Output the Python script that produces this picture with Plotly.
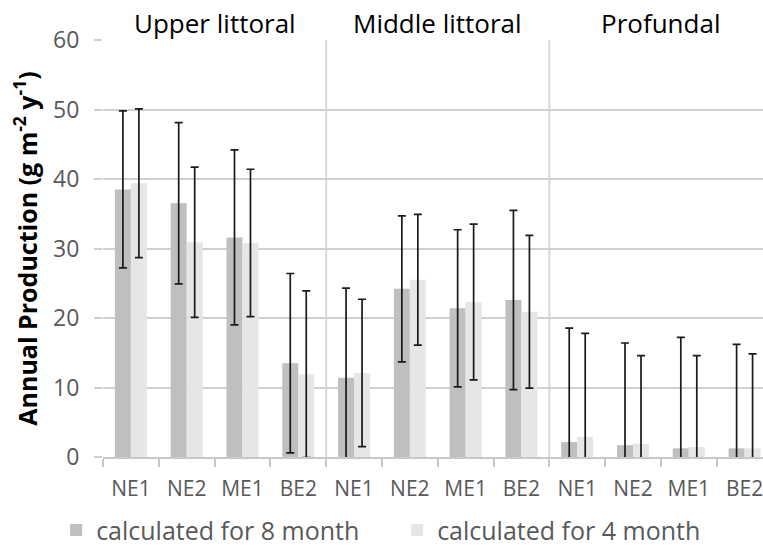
import plotly.graph_objects as go

# sites within each zone, in plotting order
zones = ["Upper littoral", "Middle littoral", "Profundal"]
sites = ["NE1", "NE2", "ME1", "BE2"]
tick_labels = sites * len(zones)

# annual production (g m-2 y-1)
prod_8m = [38.5, 36.5, 31.6, 13.5, 11.4, 24.2, 21.4, 22.6, 2.15, 1.7, 1.25, 1.25]
prod_4m = [39.4, 30.9, 30.8, 11.9, 12.1, 25.5, 22.3, 20.9, 2.9, 1.9, 1.45, 1.25]

# error (+/-)
err_8m = [11.3, 11.6, 12.6, 12.9, 12.9, 10.5, 11.3, 12.9, 16.4, 14.7, 15.95, 14.95]
err_4m = [10.7, 10.8, 10.6, 12.0, 10.6, 9.4, 11.2, 11.0, 14.9, 12.7, 13.15, 13.6]

FONT = "'Open Sans', sans-serif"
x_pos = list(range(len(tick_labels)))

fig = go.Figure()

fig.add_trace(
    go.Bar(
        x=x_pos,
        y=prod_8m,
        name="calculated for 8 month",
        marker=dict(color="#bfbfbf", line=dict(width=0)),
        error_y=dict(type="data", array=err_8m, color="#1a1a1a",
                     thickness=1.7, width=4),
    )
)
fig.add_trace(
    go.Bar(
        x=x_pos,
        y=prod_4m,
        name="calculated for 4 month",
        marker=dict(color="#e6e6e6", line=dict(width=0)),
        error_y=dict(type="data", array=err_4m, color="#1a1a1a",
                     thickness=1.7, width=4),
    )
)

# zone separators and labels
n_sites = len(sites)
for i in range(1, len(zones)):
    fig.add_shape(
        type="line", xref="x", yref="paper",
        x0=i * n_sites - 0.5, x1=i * n_sites - 0.5, y0=0, y1=1,
        line=dict(color="#d9d9d9", width=2), layer="below",
    )
for i, zone in enumerate(zones):
    fig.add_annotation(
        x=i * n_sites + (n_sites - 1) / 2, y=1, xref="x", yref="paper",
        text=zone, showarrow=False, yanchor="bottom", yshift=-3,
        font=dict(size=26, color="#000000", family=FONT),
    )

fig.update_layout(
    width=763,
    height=554,
    barmode="group",
    bargap=0.427,
    bargroupgap=0,
    margin=dict(l=103, r=0, t=40, b=97),
    paper_bgcolor="white",
    plot_bgcolor="white",
    font=dict(family=FONT, color="#595959"),
    showlegend=True,
    legend=dict(
        orientation="h",
        x=-0.071, xanchor="left",
        y=-0.231, yanchor="bottom",
        font=dict(size=25, color="#595959", family=FONT),
        entrywidth=296,
        itemclick=False,
    ),
    xaxis=dict(
        range=[-0.5, 11.33],
        automargin=False,
        tickmode="array",
        tickvals=x_pos,
        ticktext=tick_labels,
        ticks="",
        ticklabelstandoff=12,
        ticklabeloverflow="allow",
        tickfont=dict(size=21, color="#595959"),
        showgrid=False,
        zeroline=False,
        showline=True,
        linecolor="#c8c8c8",
        linewidth=1.5,
        minor=dict(
            tickvals=[v - 0.5 for v in x_pos],
            ticks="outside",
            ticklen=8,
            tickcolor="#c8c8c8",
            tickwidth=1.5,
            showgrid=False,
        ),
    ),
    yaxis=dict(
        range=[0, 60],
        dtick=10,
        automargin=False,
        ticks="outside",
        ticklen=8,
        tickcolor="#d0d0d0",
        tickwidth=1.5,
        ticklabelstandoff=10,
        tickfont=dict(size=23, color="#595959"),
        gridcolor="#d0d0d0",
        gridwidth=1.5,
        zeroline=False,
        showline=False,
        title=dict(
            text="Annual Production (g m<sup>-2</sup> y<sup>-1</sup>)",
            font=dict(size=25, color="#000000", family=FONT, weight="bold"),
            standoff=8,
        ),
    ),
)

# page body has a default 8px margin; drop it so the figure sits at the corner
fig.write_html(
    "out.html",
    config={"displayModeBar": False},
    post_script="document.body.style.margin='0';",
)
